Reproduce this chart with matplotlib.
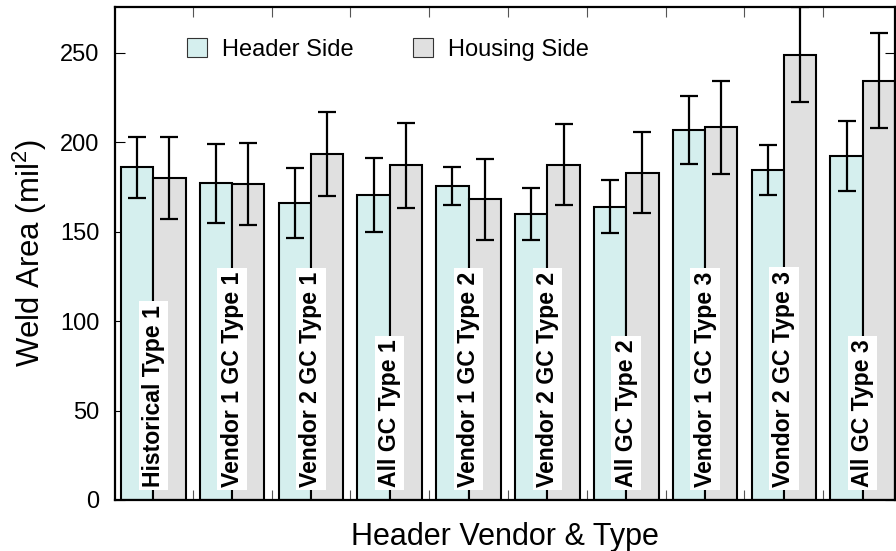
import numpy as np
from matplotlib import pyplot as plt
from matplotlib.patches import Patch

plt.rcParams['font.family'] = ['Liberation Sans', 'DejaVu Sans']
plt.rcParams['mathtext.default'] = 'regular'

# Header / housing weld areas (mean and std) per vendor & type
groups = ['Historical Type 1', 'Vendor 1 GC Type 1', 'Vendor 2 GC Type 1', 'All GC Type 1',
          'Vendor 1 GC Type 2', 'Vendor 2 GC Type 2', 'All GC Type 2',
          'Vendor 1 GC Type 3', 'Vondor 2 GC Type 3', 'All GC Type 3']
header_mean = [186, 177, 166, 170.5, 175.5, 160, 164, 207, 184.5, 192.5]
header_err = [17, 22, 19.5, 20.5, 10.5, 14.5, 15, 19, 14, 19.5]
housing_mean = [180, 176.5, 193.5, 187, 168, 187.5, 183, 208.5, 249, 234.5]
housing_err = [23, 23, 23.5, 23.5, 22.8, 22.5, 22.5, 26, 26.5, 26.5]

header_color = '#d5efee'
housing_color = '#e0e0e0'
w = 0.41

x = np.arange(len(groups))

fig = plt.figure(figsize=(8.96, 5.51), dpi=100)
ax = fig.add_axes([115 / 896, 51 / 551, 780 / 896, 493 / 551])

err_kw = dict(ecolor='black', elinewidth=1.6, capsize=6.8, capthick=1.6)
ax.bar(x - w / 2, header_mean, w, yerr=header_err, color=header_color,
       edgecolor='black', linewidth=1.5, error_kw=err_kw, zorder=2)
ax.bar(x + w / 2, housing_mean, w, yerr=housing_err, color=housing_color,
       edgecolor='black', linewidth=1.5, error_kw=err_kw, zorder=2)

# group names written up the bars
for xi, name in zip(x, groups):
    ax.text(xi, 7.5, name, rotation=90, ha='center', va='bottom',
            fontsize=16.6, fontweight='bold', zorder=5,
            bbox=dict(boxstyle='square,pad=0.14', facecolor='white', edgecolor='none'))

ax.set_xlim(-0.486, 9.41)
ax.set_ylim(0, 275.6)
ax.set_yticks([0, 50, 100, 150, 200, 250])
ax.set_xticks(x[:-1] + 0.5)
ax.set_xticklabels([])
ax.tick_params(axis='both', direction='in', length=7.2, width=0.8,
               top=True, right=True, labelsize=17, pad=11)
ax.tick_params(axis='x', colors='#555555')
for sp in ax.spines.values():
    sp.set_linewidth(1.6)

ax.set_ylabel('Weld Area (mil$^{2}$)', fontsize=22.4, labelpad=8)
ax.set_xlabel('Header Vendor & Type', fontsize=22)
ax.xaxis.set_label_coords(0.5, -0.045)

handles = [Patch(facecolor=header_color, edgecolor='#333333', linewidth=0.8, label='Header Side'),
           Patch(facecolor=housing_color, edgecolor='#333333', linewidth=0.8, label='Housing Side')]
ax.legend(handles=handles, loc='upper left', bbox_to_anchor=(0.065, 0.98), ncol=2,
          frameon=False, fontsize=17, handlelength=0.85, handleheight=0.85,
          handletextpad=0.64, columnspacing=2.5)

fig.savefig('out.png', dpi=100)
